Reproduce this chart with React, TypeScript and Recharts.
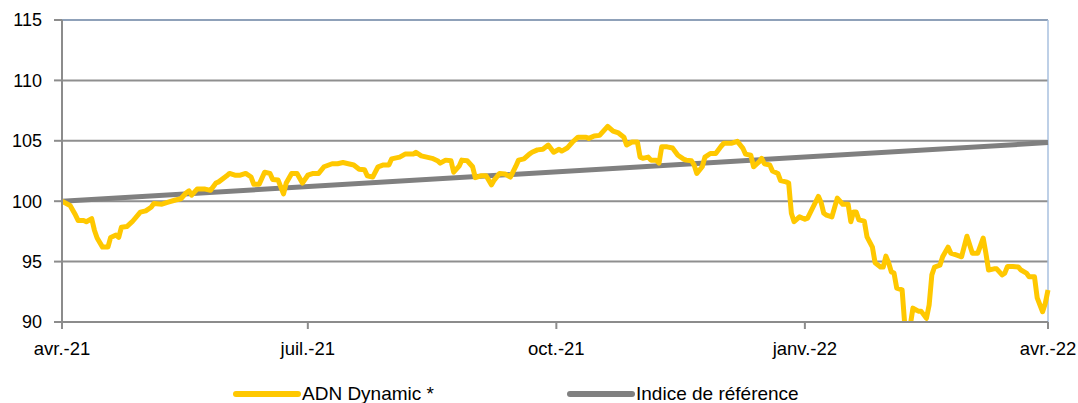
import React from "react";
import { LineChart, Line, XAxis, YAxis, CartesianGrid, Legend, ReferenceLine } from "recharts";

// jours depuis le 1er avril 2021
const days = [
  0, 3, 5, 6, 8, 9, 11, 12, 13, 15, 17, 18, 20, 21, 22, 24, 26, 29, 31, 33, 34, 37, 39, 42, 44, 46, 47, 48, 50, 53,
  55, 57, 58, 61, 62, 64, 66, 68, 70, 71, 73, 75, 77, 78, 80, 82, 83, 85, 87, 89, 91, 93, 95, 97, 100, 102, 104, 106,
  108, 110, 112, 113, 115, 117, 119, 121, 122, 125, 127, 130, 131, 133, 135, 137, 139, 140, 142, 144, 145, 147, 148,
  150, 152, 153, 155, 157, 159, 160, 162, 164, 166, 168, 169, 171, 173, 174, 176, 178, 180, 182, 184, 185, 187, 189,
  191, 192, 194, 195, 197, 199, 202, 204, 206, 208, 209, 211, 213, 214, 215, 217, 218, 220, 221, 222, 224, 226, 228,
  230, 231, 233, 234, 235, 237, 238, 240, 242, 244, 245, 248, 250, 252, 253, 255, 256, 258, 259, 260, 262, 263, 265,
  266, 268, 269, 270, 271, 273, 275, 276, 278, 280, 281, 282, 283, 285, 287, 288, 289, 291, 292, 293, 294, 295, 297,
  298, 300, 301, 303, 304, 305, 306, 307, 308, 309, 311, 312, 314, 315, 317, 318, 320, 321, 322, 323, 325, 326, 328,
  329, 331, 333, 335, 337, 339, 341, 342, 343, 345, 346, 348, 349, 350, 352, 354, 355, 357, 358, 360, 361, 363, 364,
  365,
];

const adnDynamic = [
  100.0, 99.65, 98.85, 98.4, 98.4, 98.3, 98.55, 97.6, 96.95, 96.2, 96.2, 97.0, 97.2, 97.0, 97.85, 97.9, 98.3, 99.1,
  99.2, 99.5, 99.8, 99.75, 99.9, 100.1, 100.2, 100.7, 100.85, 100.5, 101.0, 101.0, 100.9, 101.5, 101.6, 102.1, 102.3,
  102.15, 102.15, 102.3, 102.0, 101.4, 101.4, 102.4, 102.3, 101.8, 101.75, 100.6, 101.5, 102.3, 102.3, 101.5, 102.15,
  102.3, 102.3, 102.85, 103.1, 103.1, 103.2, 103.1, 103.0, 102.65, 102.6, 102.1, 102.0, 102.85, 103.0, 103.0, 103.5,
  103.65, 103.9, 103.9, 104.05, 103.75, 103.65, 103.55, 103.35, 103.15, 103.4, 103.35, 102.4, 102.9, 103.4, 103.35,
  102.85, 101.95, 102.1, 102.1, 101.35, 101.75, 102.3, 102.25, 102.0, 102.9, 103.4, 103.5, 103.9, 104.05, 104.25,
  104.3, 104.65, 104.05, 104.3, 104.15, 104.4, 104.9, 105.3, 105.3, 105.3, 105.2, 105.4, 105.45, 106.2, 105.8, 105.65,
  105.3, 104.65, 104.9, 104.9, 103.65, 103.55, 103.65, 103.4, 103.4, 103.15, 104.5, 104.5, 104.4, 103.8, 103.5, 103.4,
  103.35, 103.0, 102.3, 102.85, 103.65, 103.95, 103.95, 104.55, 104.8, 104.8, 104.95, 104.4, 103.9, 103.8, 102.85,
  103.25, 103.55, 103.1, 103.0, 102.5, 102.3, 101.7, 101.6, 101.5, 99.0, 98.3, 98.7, 98.5, 98.6, 99.5, 100.4, 99.9,
  99.0, 98.85, 98.7, 100.25, 100.0, 99.75, 99.75, 98.3, 99.1, 99.1, 98.45, 98.35, 97.05, 96.2, 94.9, 94.55, 94.55,
  95.45, 94.9, 94.15, 94.05, 92.8, 92.65, 89.7, 89.7, 91.15, 90.9, 90.9, 90.3, 91.4, 93.9, 94.55, 94.7, 95.4, 96.2,
  95.7, 95.55, 95.4, 97.1, 95.7, 95.7, 96.95, 95.7, 94.3, 94.4, 94.4, 93.9, 94.05, 94.6, 94.6, 94.55, 94.3, 94.05,
  93.75, 93.75, 92.0, 90.85, 91.55, 92.65,
];

const indexDays = [0, 365];
const indexValues = [100, 104.85];

const xTicks = [0, 91, 183, 275, 365];
const xLabels = ["avr.-21", "juil.-21", "oct.-21", "janv.-22", "avr.-22"];
const yTicks = [90, 95, 100, 105, 110, 115];

const seriesNames = ["ADN Dynamic *", "Indice de référence"];
const seriesColors = ["#FFC800", "#808080"];

const adnData = days.map((d, i) => ({ x: d, y: adnDynamic[i] }));
const indexData = indexDays.map((d, i) => ({ x: d, y: indexValues[i] }));

const FONT = "'Liberation Sans', Arial, sans-serif";

// légende dessinée à la main pour coller au rendu Excel
const renderLegend = () => (
  <svg width={1078} height={20} style={{ display: "block" }}>
    <line x1={236} y1={10} x2={298} y2={10} stroke={seriesColors[0]} strokeWidth={6} strokeLinecap="round" />
    <text x={302} y={16} fontSize={19} fontFamily={FONT} fill="#000">
      {seriesNames[0]}
    </text>
    <line x1={570} y1={10} x2={632} y2={10} stroke={seriesColors[1]} strokeWidth={6} strokeLinecap="round" />
    <text x={636} y={16} fontSize={19} fontFamily={FONT} fill="#000">
      {seriesNames[1]}
    </text>
  </svg>
);

const App: React.FC = () => {
  return (
    <div style={{ position: "absolute", left: 0, top: 0, width: 1078, height: 403, background: "#fff" }}>
      <LineChart width={1078} height={403} margin={{ top: 20, right: 30, left: 0, bottom: 51 }}>
        <CartesianGrid vertical={false} stroke="#8f8f8f" strokeWidth={2} />
        <XAxis
          dataKey="x"
          type="number"
          domain={[0, 365]}
          ticks={xTicks}
          tickFormatter={(v: number) => xLabels[xTicks.indexOf(v)]}
          height={30}
          tickSize={7}
          tickMargin={13}
          stroke="#8c8c8c"
          strokeWidth={2}
          tick={{ fill: "#000", fontSize: 18.5, fontFamily: FONT }}
          interval={0}
        />
        <YAxis
          type="number"
          domain={[90, 115]}
          ticks={yTicks}
          allowDataOverflow
          width={62}
          tickSize={8}
          tickMargin={12}
          stroke="#8c8c8c"
          strokeWidth={2}
          tick={{ fill: "#000", fontSize: 18, fontFamily: FONT }}
          interval={0}
        />
        <ReferenceLine y={115} stroke="#8fa7c7" strokeWidth={1.5} />
        <ReferenceLine x={365} stroke="#a9c1df" strokeWidth={1.5} />
        <Line
          data={indexData}
          dataKey="y"
          name={seriesNames[1]}
          stroke={seriesColors[1]}
          strokeWidth={5}
          dot={false}
          type="linear"
          isAnimationActive={false}
        />
        <Line
          data={adnData}
          dataKey="y"
          name={seriesNames[0]}
          stroke={seriesColors[0]}
          strokeWidth={5}
          strokeLinejoin="round"
          dot={false}
          type="linear"
          isAnimationActive={false}
        />
        <Legend
          layout="horizontal"
          verticalAlign="middle"
          align="center"
          content={renderLegend}
          wrapperStyle={{ top: 384, left: 0, width: 1078, height: 20 }}
        />
      </LineChart>
    </div>
  );
};

export default App;
